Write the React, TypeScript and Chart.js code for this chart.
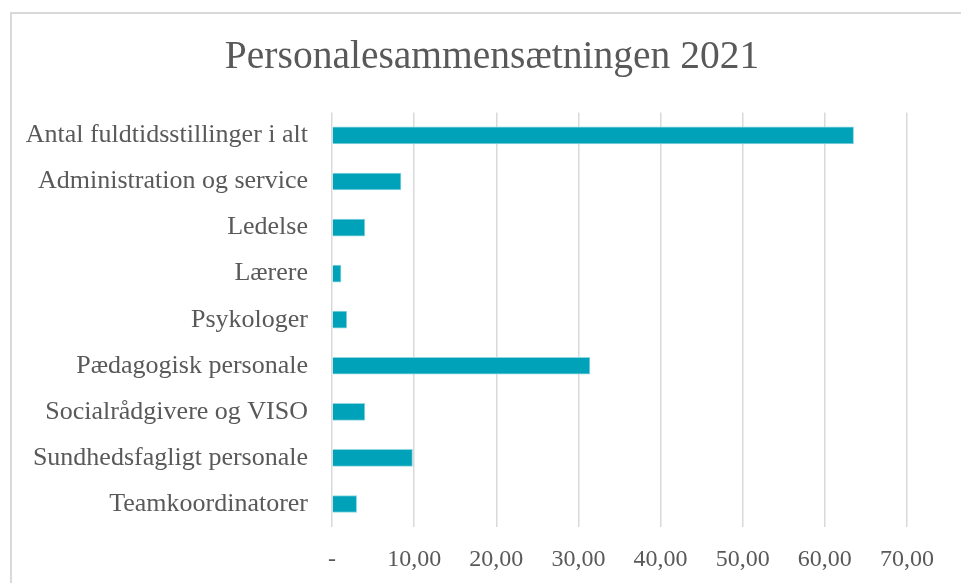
import React, { useEffect, useRef } from "react";
import { Chart, registerables } from "chart.js";

Chart.register(...registerables);

const title = "Personalesammensætningen 2021";
const categories = [
  "Antal fuldtidsstillinger i alt",
  "Administration og service",
  "Ledelse",
  "Lærere",
  "Psykologer",
  "Pædagogisk personale",
  "Socialrådgivere og VISO",
  "Sundhedsfagligt personale",
  "Teamkoordinatorer",
];
const values = [63.5, 8.4, 4.0, 1.1, 1.8, 31.4, 4.0, 9.8, 3.0];
const xMin = 0;
const xMax = 70;
const xStep = 10;

const FONT = "'Liberation Serif', 'DejaVu Serif', serif";
const TEXT = "#595959";
const CANVAS_W = 984;
const CANVAS_H = 583;

export default function App() {
  const ref = useRef<HTMLCanvasElement | null>(null);

  useEffect(() => {
    const canvas = ref.current;
    if (!canvas) return;
    const chart = new Chart(canvas, {
      type: "bar",
      data: {
        labels: categories,
        datasets: [
          {
            data: values,
            backgroundColor: "#00A2BA",
            borderColor: "#8fd6e0",
            borderWidth: 1,
            barThickness: 17,
          },
        ],
      },
      options: {
        indexAxis: "y",
        animation: false,
        responsive: false,
        devicePixelRatio: 1,
        layout: { padding: { left: 0, right: 0, top: 0, bottom: 0 } },
        plugins: {
          legend: { display: false },
          tooltip: { enabled: false },
          title: {
            display: true,
            text: title,
            color: TEXT,
            font: { family: FONT, size: 39.5, weight: "normal" },
            padding: { top: 34, bottom: 31 },
          },
        },
        scales: {
          x: {
            min: xMin,
            max: xMax,
            grid: { color: "#d9d9d9", lineWidth: 1.5, drawTicks: false },
            border: { display: false },
            ticks: {
              stepSize: xStep,
              color: TEXT,
              padding: 18,
              font: { family: FONT, size: 24 },
              callback: (v: any) =>
                Number(v) === 0 ? "-" : Number(v).toFixed(2).replace(".", ","),
            },
            afterFit: (s: any) => {
              s.height = 56;
            },
          },
          y: {
            grid: { display: false, drawTicks: false },
            border: { display: false },
            ticks: {
              color: TEXT,
              padding: 24,
              font: { family: FONT, size: 26 },
            },
            afterFit: (s: any) => {
              s.width = 332;
            },
          },
          spacer: {
            type: "linear",
            position: "right",
            axis: "y",
            grid: { display: false, drawTicks: false },
            border: { display: false },
            ticks: { display: false },
            afterFit: (s: any) => {
              s.width = 77;
            },
          },
        },
      },
    });
    return () => chart.destroy();
  }, []);

  return (
    <div
      style={{
        position: "fixed",
        left: 0,
        top: 0,
        width: 961,
        height: 583,
        overflow: "hidden",
        background: "#ffffff",
      }}
    >
      <div
        style={{
          position: "absolute",
          left: 10,
          top: 12,
          width: 1000,
          height: 1000,
          border: "2px solid #d9d9d9",
          boxSizing: "border-box",
        }}
      />
      <canvas
        ref={ref}
        width={CANVAS_W}
        height={CANVAS_H}
        style={{ position: "absolute", left: 0, top: 0, width: CANVAS_W, height: CANVAS_H }}
      />
    </div>
  );
}
